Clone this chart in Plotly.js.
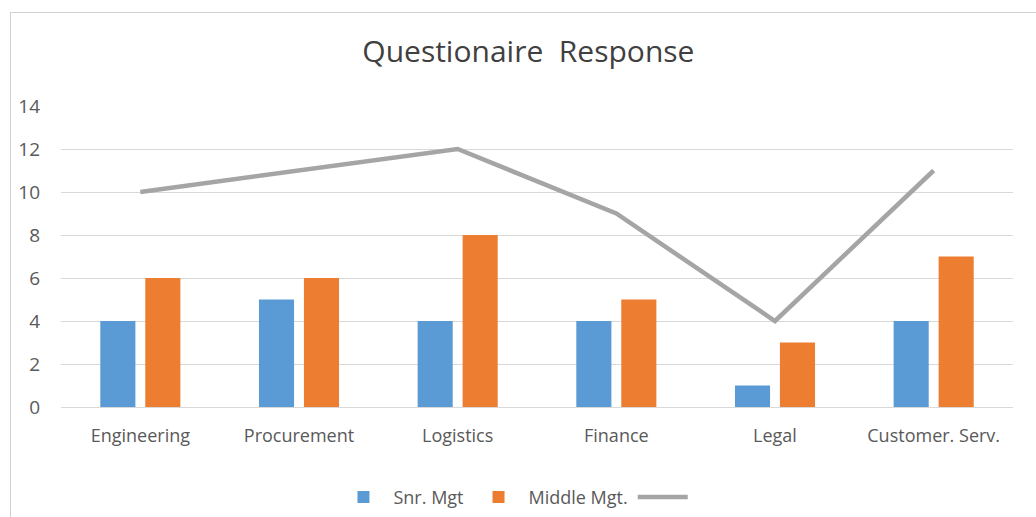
<!DOCTYPE html>
<html>
<head>
<meta charset="utf-8">
<script src="https://cdn.plot.ly/plotly-3.0.1.min.js"></script>
<style>
  html, body { margin: 0; padding: 0; background: #fff; overflow: hidden; }
  #wrap { position: relative; width: 1036px; height: 517px; }
  #chart { position: absolute; left: 0; top: 0; width: 1036px; height: 517px; }
  #frame { position: absolute; left: 10px; top: 12px; width: 1040px; height: 520px;
           border-left: 1px solid #d0d0d0; border-top: 1px solid #d0d0d0; pointer-events: none; }
</style>
</head>
<body>
<div id="wrap">
  <div id="chart"></div>
  <div id="frame"></div>
</div>
<script>
const categories = ["Engineering", "Procurement", "Logistics", "Finance", "Legal", "Customer. Serv."];
const snrMgt = [4, 5, 4, 4, 1, 4];
const middleMgt = [6, 6, 8, 5, 3, 7];
const total = [10, 11, 12, 9, 4, 11];

const font = "Open Sans, Liberation Sans, sans-serif";

const data = [
  { type: "bar", name: "Snr. Mgt", x: categories, y: snrMgt, marker: { color: "#5b9bd5" } },
  { type: "bar", name: "Middle Mgt.", x: categories, y: middleMgt, marker: { color: "#ed7d31" } },
  { type: "scatter", mode: "lines", name: " ", x: categories, y: total,
    line: { color: "#a5a5a5", width: 4.5 } }
];

const layout = {
  width: 1036, height: 517,
  margin: { l: 61, r: 23, t: 106, b: 110, autoexpand: false },
  paper_bgcolor: "#ffffff", plot_bgcolor: "#ffffff",
  font: { family: font, size: 18, color: "#595959" },
  title: { text: "Questionaire\u00a0 Response", font: { family: font, size: 30, color: "#404040" },
           x: 0.51, xanchor: "center", y: 0.9, yanchor: "middle" },
  barmode: "group", bargap: 0.433, bargroupgap: 0.22,
  showlegend: true,
  legend: { orientation: "h", x: 0.48, xanchor: "center", y: -0.3, yanchor: "middle",
            itemwidth: 50,
            font: { family: font, size: 18, color: "#595959" }, traceorder: "normal" },
  xaxis: { showgrid: false, zeroline: false, showline: false, ticks: "",
           ticklabelstandoff: 16, tickfont: { family: font, size: 18, color: "#595959" } },
  yaxis: { range: [0, 14], dtick: 2, showgrid: true, gridcolor: "#d9d9d9", gridwidth: 1,
           zeroline: true, zerolinecolor: "#d9d9d9", zerolinewidth: 1, showline: false, ticks: "",
           ticklabelstandoff: 20, tickfont: { family: font, size: 19, color: "#595959" } }
};

Plotly.newPlot("chart", data, layout, { displayModeBar: false, staticPlot: true });
</script>
</body>
</html>
